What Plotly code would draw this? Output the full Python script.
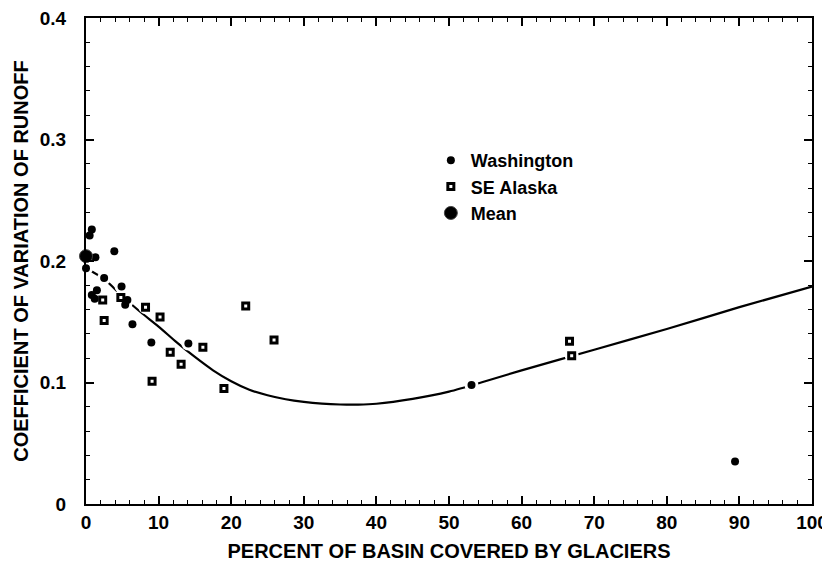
import plotly.graph_objects as go

# ---- data ----
wa_x = [0.8, 0.5, 1.3, 3.9, 0.0, 2.5, 4.9, 1.5, 0.8, 1.2, 5.7, 5.4, 6.4, 9.0, 14.1, 53.1, 89.4]
wa_y = [0.226, 0.221, 0.203, 0.208, 0.194, 0.186, 0.179, 0.176, 0.172, 0.169, 0.168, 0.164, 0.148, 0.133, 0.132, 0.098, 0.035]

ak_x = [2.3, 4.8, 8.2, 2.5, 10.2, 11.6, 16.1, 13.1, 9.1, 19.0, 22.0, 25.9, 66.6, 66.9]
ak_y = [0.168, 0.170, 0.162, 0.151, 0.154, 0.125, 0.129, 0.115, 0.101, 0.095, 0.163, 0.135, 0.134, 0.122]

mean_x = [0.0]
mean_y = [0.204]

curve_x = [0, 2.5, 5, 7.5, 10, 12.5, 15, 17.5, 20, 22.5, 25, 27.5, 30, 32.5, 35, 37.5, 40, 45, 50, 55, 60, 70, 80, 90, 100]
curve_y = [0.194, 0.185, 0.171, 0.158, 0.146, 0.133, 0.121, 0.110, 0.101, 0.094, 0.0895, 0.0862, 0.084, 0.0826, 0.0819, 0.0818, 0.0825, 0.0865, 0.0925, 0.101, 0.110, 0.127, 0.144, 0.162, 0.179]

x_ticks = [0, 10, 20, 30, 40, 50, 60, 70, 80, 90, 100]
y_ticks = [0, 0.1, 0.2, 0.3, 0.4]
y_tick_labels = ["0", "0.1", "0.2", "0.3", "0.4"]

x_title = "PERCENT OF BASIN COVERED BY GLACIERS"
y_title = "COEFFICIENT OF VARIATION OF RUNOFF"

FONT = "Liberation Sans"

fig = go.Figure()

# fitted curve
fig.add_trace(go.Scatter(x=curve_x, y=curve_y, mode="lines",
                         line=dict(color="black", width=2.2, shape="spline", smoothing=0.8),
                         showlegend=False, hoverinfo="skip"))

# white halos (gap in the line around symbols)
fig.add_trace(go.Scatter(x=wa_x + ak_x, y=wa_y + ak_y, mode="markers",
                         marker=dict(color="white", size=14, symbol="circle"),
                         showlegend=False, hoverinfo="skip", cliponaxis=False))

fig.add_trace(go.Scatter(x=wa_x, y=wa_y, mode="markers", name="Washington",
                         legendgroup="a",
                         marker=dict(color="black", size=8, symbol="circle"),
                         cliponaxis=False))
fig.add_trace(go.Scatter(x=ak_x, y=ak_y, mode="markers", name="SE Alaska",
                         legendgroup="b",
                         marker=dict(color="white", size=6, symbol="square",
                                     line=dict(color="black", width=3)),
                         cliponaxis=False))
fig.add_trace(go.Scatter(x=mean_x, y=mean_y, mode="markers", name="Mean",
                         legendgroup="c",
                         marker=dict(color="black", size=13, symbol="circle",
                                     line=dict(color="#444", width=1)),
                         cliponaxis=False))

axis_common = dict(
    showgrid=False, zeroline=False, automargin=False,
    showline=True, linecolor="black", linewidth=2,
    mirror="ticks", ticks="inside", ticklen=8, tickwidth=1.5, tickcolor="black",
    ticklabeloverflow="allow",
    tickfont=dict(family=FONT, size=19, color="black", weight="bold"),
)

fig.update_xaxes(range=[0, 100], tickvals=x_ticks, ticklabelstandoff=0,
                 minor=dict(dtick=2, ticks="inside", ticklen=4, tickwidth=1.2, tickcolor="black"),
                 title=dict(text=x_title, standoff=12,
                            font=dict(family=FONT, size=20, color="black", weight="bold")),
                 **axis_common)
fig.update_yaxes(range=[0, 0.4], tickvals=y_ticks, ticktext=y_tick_labels, ticklabelstandoff=14,
                 minor=dict(dtick=0.02, ticks="inside", ticklen=4, tickwidth=1.2, tickcolor="black"),
                 title=dict(text=y_title, standoff=6,
                            font=dict(family=FONT, size=20, color="black", weight="bold")),
                 **axis_common)

# the page body has an 8px margin, so size the figure to fit inside the window
fig.update_layout(
    width=822, height=558,
    margin=dict(l=78, r=18, t=10, b=62),
    plot_bgcolor="white", paper_bgcolor="white",
    legend=dict(x=0.475, y=0.745, xanchor="left", yanchor="top",
                bgcolor="rgba(0,0,0,0)", tracegroupgap=0,
                font=dict(family=FONT, size=18, color="black", weight="bold")),
    showlegend=True,
)

fig.write_html("out.html")
